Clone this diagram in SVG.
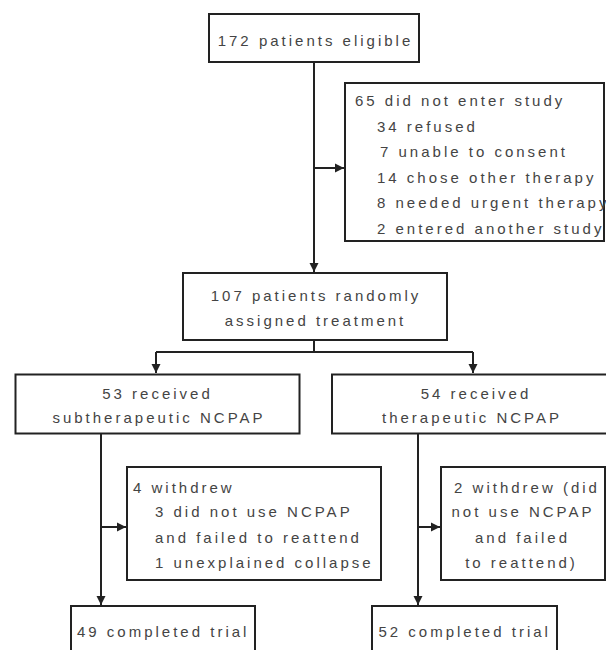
<svg xmlns="http://www.w3.org/2000/svg" width="606" height="650" viewBox="0 0 606 650">
<style>
.box{fill:#fff;stroke:#222;stroke-width:2}
.t{font-family:"Liberation Sans",Arial,sans-serif;font-size:15px;letter-spacing:3px;fill:#444}
.c{text-anchor:middle}
.ln{fill:none;stroke:#222;stroke-width:2}
</style>
<defs>
<marker id="ah" markerUnits="userSpaceOnUse" markerWidth="10" markerHeight="10" refX="9" refY="5" orient="auto">
<path d="M0,0.5 L9,5 L0,9.5 z" fill="#222"/>
</marker>
</defs>
<rect width="606" height="650" fill="#fff"/>
<g id="connectors">
<path class="ln" d="M314,62 V272" marker-end="url(#ah)"/>
<path class="ln" d="M314,168 H344" marker-end="url(#ah)"/>
<path class="ln" d="M314,341 V352 M156,352 H473"/>
<path class="ln" d="M156,352 V373" marker-end="url(#ah)"/>
<path class="ln" d="M473,352 V373" marker-end="url(#ah)"/>
<path class="ln" d="M101,434 V605" marker-end="url(#ah)"/>
<path class="ln" d="M101,527 H126" marker-end="url(#ah)"/>
<path class="ln" d="M418,434 V605" marker-end="url(#ah)"/>
<path class="ln" d="M418,527 H440" marker-end="url(#ah)"/>
</g>
<g id="eligible">
<rect class="box" x="209" y="14" width="210" height="48"/>
<text class="t c" x="315.5" y="46">172 patients eligible</text>
</g>
<g id="excluded">
<rect class="box" x="345" y="83" width="259" height="158"/>
<text class="t" x="355" y="106">65 did not enter study</text>
<text class="t" x="377" y="131.5">34 refused</text>
<text class="t" x="380" y="157">7 unable to consent</text>
<text class="t" x="377" y="182.5">14 chose other therapy</text>
<text class="t" x="377" y="208">8 needed urgent therapy</text>
<text class="t" x="377" y="233.5">2 entered another study</text>
</g>
<g id="randomized">
<rect class="box" x="183" y="273" width="264" height="67"/>
<text class="t c" x="316" y="300.5">107 patients randomly</text>
<text class="t c" x="315.5" y="326">assigned treatment</text>
</g>
<g id="sub">
<rect class="box" x="15.5" y="374.5" width="284" height="59"/>
<text class="t c" x="157.5" y="399">53 received</text>
<text class="t c" x="159" y="423">subtherapeutic NCPAP</text>
</g>
<g id="ther">
<rect class="box" x="332" y="374.5" width="290" height="59"/>
<text class="t c" x="476" y="399">54 received</text>
<text class="t c" x="472" y="423">therapeutic NCPAP</text>
</g>
<g id="withdrew-sub">
<rect class="box" x="127" y="467" width="254" height="113"/>
<text class="t" x="133" y="493">4 withdrew</text>
<text class="t" x="155" y="517">3 did not use NCPAP</text>
<text class="t" x="155" y="543">and failed to reattend</text>
<text class="t" x="155" y="568">1 unexplained collapse</text>
</g>
<g id="withdrew-ther">
<rect class="box" x="441" y="467" width="164" height="113"/>
<text class="t c" x="527" y="493">2 withdrew (did</text>
<text class="t c" x="523" y="517">not use NCPAP</text>
<text class="t c" x="522.5" y="543">and failed</text>
<text class="t c" x="521.5" y="568">to reattend)</text>
</g>
<g id="completed-sub">
<rect class="box" x="71" y="606" width="184" height="60"/>
<text class="t" x="77" y="636.5">49 completed trial</text>
</g>
<g id="completed-ther">
<rect class="box" x="372" y="606" width="185" height="60"/>
<text class="t" x="378.5" y="636.5">52 completed trial</text>
</g>
</svg>
